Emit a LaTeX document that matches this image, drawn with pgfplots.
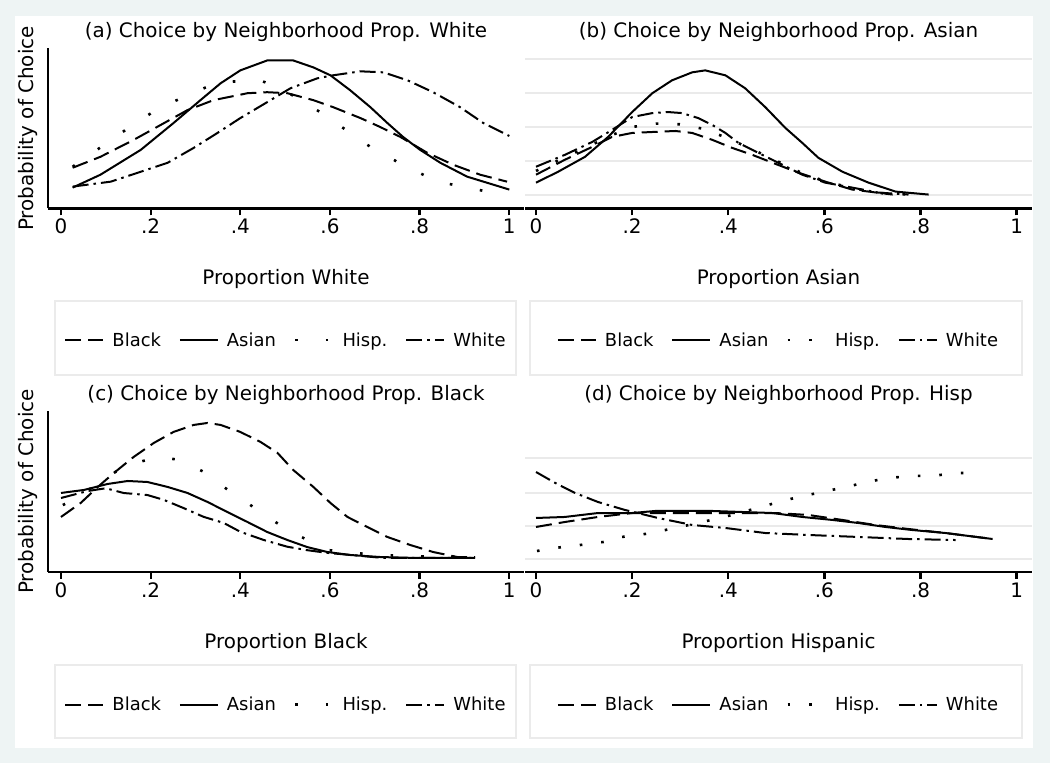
\documentclass[border=0pt]{standalone}
\usepackage{fontspec}
\setmainfont{DejaVu Sans}
\usepackage{pgfplots}
\pgfplotsset{compat=1.18}
\definecolor{bgc}{HTML}{EEF4F4}
\definecolor{gridc}{HTML}{EAEAEA}
\definecolor{legc}{HTML}{EBEBEB}
\pgfplotsset{
  panel/.style={scale only axis, clip=true,
    axis x line*=bottom, axis y line*=left,
    x axis line style={line width=2.3bp,-},
    xtick={0,0.2,0.4,0.6,0.8,1}, xticklabels={0,.2,.4,.6,.8,1},
    tick align=outside, major tick length=7bp,
    xtick style={line width=2.3bp,black},
    ticklabel style={font=\fontsize{20}{24}\selectfont},
    /pgf/number format/assume math mode=true,
    every axis title/.style={at={(axis description cs:0.5,1.1)},anchor=center,font=\fontsize{20}{24}\selectfont},
    every axis x label/.style={at={(axis description cs:0.5,-0.44)},anchor=center,font=\fontsize{20}{24}\selectfont},
    legend style={draw=none,fill=none,legend columns=4,font=\fontsize{18}{22}\selectfont,
      at={(axis description cs:0.5,-0.823)},anchor=center,
      /tikz/every odd column/.append style={column sep=6bp},
      /tikz/every even column/.append style={column sep=16bp}},
    legend image code/.code={\draw[#1] (0bp,0bp) -- (38bp,0bp);},
  },
  leftpanel/.style={panel, width=476bp, xmin=-0.029, xmax=1.0328,
    y axis line style={line width=2.3bp,-}, ytick=\empty,
    every axis y label/.style={at={(axis description cs:-0.042,0.5)},rotate=90,anchor=center,font=\fontsize{20}{24}\selectfont},
    ylabel={Probability of Choice}},
  rightpanel/.style={panel, width=507bp, xmin=-0.0229, xmax=1.032,
    y axis line style={draw=none}, ytick style={draw=none}, yticklabels={},
    ymajorgrids, grid style={line width=2bp,gridc}},
  toprow/.style={height=160bp, ymin=-0.0206, ymax=0.2162},
  botrow/.style={height=161bp, ymin=-0.0191, ymax=0.2176},
  blk/.style={black,line width=2bp,dash pattern=on 16bp off 7bp},
  asn/.style={black,line width=2bp},
  hspA/.style={black,line width=2.6bp,dash pattern=on 2.6bp off 28bp},
  hspB/.style={black,line width=2.6bp,dash pattern=on 2.6bp off 19bp},
  wht/.style={black,line width=2bp,dash pattern=on 16bp off 5bp on 2.5bp off 5bp},
}
\begin{document}
\begin{tikzpicture}[x=1bp,y=1bp]
\useasboundingbox (0,0) rectangle (1050,763);
\fill[bgc] (0,0) rectangle (1050,763);
\fill[white] (15,15) rectangle (1033,747);
\draw[legc,line width=2bp] (55,388) rectangle (516,462);
\draw[legc,line width=2bp] (530,388) rectangle (1022,462);
\draw[legc,line width=2bp] (55,25) rectangle (516,98);
\draw[legc,line width=2bp] (530,25) rectangle (1022,98);

% (a)
\begin{axis}[leftpanel, toprow, at={(48bp,554.5bp)}, anchor=south west,
  title={(a) Choice by Neighborhood Prop. White}, xlabel={Proportion White}]
\addplot[blk] coordinates {(0.026,.0397)(0.088,.0559)(0.162,.0809)(0.222,.1029)(0.282,.125)(0.340,.1397)(0.416,.15)(0.460,.1515)(0.505,.15)(0.563,.1397)(0.607,.1294)(0.668,.1132)(0.712,.1)(0.757,.0853)(0.817,.0618)(0.875,.0441)(0.935,.0294)(0.995,.0191)};
\addlegendentry{Black}
\addplot[asn] coordinates {(0.026,.0103)(0.088,.0294)(0.178,.0662)(0.251,.1059)(0.311,.1397)(0.356,.1647)(0.400,.1838)(0.460,.1985)(0.518,.1985)(0.563,.1882)(0.601,.1765)(0.645,.1544)(0.690,.1294)(0.728,.1059)(0.763,.0853)(0.801,.0662)(0.846,.0471)(0.906,.0265)(1.0,.0074)};
\addlegendentry{Asian}
\addplot[hspA] coordinates {(0.026,.0412)(0.144,.0956)(0.218,.1279)(0.349,.1662)(0.445,.1691)(0.505,.1515)(0.578,.1221)(0.623,.1015)(0.690,.0706)(0.750,.0485)(0.808,.0294)(0.839,.0191)(0.897,.0118)(0.950,.0044)};
\addlegendentry{Hisp.}
\addplot[wht] coordinates {(0.026,.0118)(0.111,.0191)(0.178,.0338)(0.238,.0471)(0.296,.0691)(0.349,.0912)(0.400,.1132)(0.460,.1368)(0.512,.1574)(0.572,.1721)(0.607,.1765)(0.668,.1824)(0.719,.1809)(0.773,.1691)(0.830,.1515)(0.890,.1294)(0.942,.1059)(1.0,.0868)};
\addlegendentry{White}
\end{axis}

% (b)
\begin{axis}[rightpanel, toprow, at={(525bp,554.5bp)}, anchor=south west,
  ytick={0,0.05,0.1,0.15,0.2},
  title={(b) Choice by Neighborhood Prop. Asian}, xlabel={Proportion Asian}]
\addplot[blk] coordinates {(0,.0294)(0.060,.0515)(0.117,.0706)(0.158,.0853)(0.2,.0912)(0.242,.0926)(0.290,.0941)(0.325,.0912)(0.367,.0809)(0.408,.0691)(0.45,.0588)(0.492,.0471)(0.546,.0324)(0.602,.0191)(0.658,.0074)(0.742,0)};
\addlegendentry{Black}
\addplot[asn] coordinates {(0,.0176)(0.046,.0338)(0.102,.0559)(0.150,.0853)(0.200,.1221)(0.242,.15)(0.283,.1691)(0.325,.1809)(0.352,.1838)(0.394,.1765)(0.435,.1574)(0.477,.1294)(0.519,.0985)(0.554,.0765)(0.5875,.0544)(0.6375,.0338)(0.692,.0176)(0.748,.0044)(0.817,0)};
\addlegendentry{Asian}
\addplot[hspB] coordinates {(0,.035)(0.06,.055)(0.117,.074)(0.158,.088)(0.2,.1)(0.25,.105)(0.3,.104)(0.35,.097)(0.4,.083)(0.45,.067)(0.5,.05)(0.55,.033)(0.6,.02)(0.66,.009)(0.72,.002)(0.78,0)};
\addlegendentry{Hisp.}
\addplot[wht] coordinates {(0,.0412)(0.060,.0588)(0.117,.0779)(0.158,.0956)(0.2,.1147)(0.242,.1206)(0.275,.1221)(0.304,.1206)(0.3375,.1132)(0.367,.1029)(0.394,.0912)(0.421,.0765)(0.4625,.0618)(0.504,.0471)(0.554,.0294)(0.602,.0176)(0.658,.0103)(0.7125,.0029)(0.775,0)};
\addlegendentry{White}
\end{axis}

% (c)
\begin{axis}[leftpanel, botrow, at={(48bp,191bp)}, anchor=south west,
  title={(c) Choice by Neighborhood Prop. Black}, xlabel={Proportion Black}]
\addplot[blk] coordinates {(0,.0618)(0.044,.0824)(0.082,.1059)(0.118,.1265)(0.162,.15)(0.207,.1706)(0.251,.1868)(0.296,.1971)(0.327,.2)(0.356,.1971)(0.400,.1868)(0.445,.1721)(0.483,.1559)(0.518,.1309)(0.563,.1059)(0.601,.0824)(0.639,.0618)(0.683,.0471)(0.728,.0324)(0.779,.0206)(0.830,.0103)(0.884,.0029)(0.924,.0029)};
\addlegendentry{Black}
\addplot[asn] coordinates {(0,.0971)(0.051,.1015)(0.104,.1103)(0.149,.1147)(0.193,.1132)(0.238,.1059)(0.282,.0971)(0.327,.0838)(0.371,.0691)(0.416,.0544)(0.460,.0397)(0.505,.0279)(0.549,.0176)(0.594,.0103)(0.645,.0059)(0.712,.0029)(0.794,.0015)(0.924,.0015)};
\addlegendentry{Asian}
\addplot[hspA] coordinates {(0.004,.0794)(0.044,.0912)(0.088,.1162)(0.15,.138)(0.215,.15)(0.267,.1456)(0.340,.1206)(0.363,.1059)(0.416,.0824)(0.460,.0618)(0.518,.0382)(0.541,.0309)(0.594,.0132)(0.7,.006)(0.8,.004)(0.924,.0029)};
\addlegendentry{Hisp.}
\addplot[wht] coordinates {(0,.0897)(0.06,.1)(0.1,.104)(0.14,.097)(0.193,.094)(0.229,.087)(0.273,.075)(0.318,.062)(0.363,.053)(0.4,.040)(0.452,.028)(0.505,.018)(0.549,.013)(0.594,.009)(0.645,.006)(0.719,.0015)(0.924,.0015)};
\addlegendentry{White}
\end{axis}

% (d)
\begin{axis}[rightpanel, botrow, at={(525bp,191bp)}, anchor=south west,
  ytick={0,0.0485,0.097,0.1485},
  title={(d) Choice by Neighborhood Prop. Hisp}, xlabel={Proportion Hispanic}]
\addplot[blk] coordinates {(0,.0471)(0.060,.0544)(0.129,.0618)(0.2,.0676)(0.254,.0676)(0.367,.0676)(0.429,.0676)(0.498,.0676)(0.567,.0647)(0.6375,.0574)(0.706,.05)(0.775,.0441)(0.852,.0382)(0.95,.0294)};
\addlegendentry{Black}
\addplot[asn] coordinates {(0,.0603)(0.060,.0618)(0.129,.0676)(0.2,.0676)(0.248,.0706)(0.367,.0706)(0.492,.0676)(0.554,.0618)(0.617,.0574)(0.671,.0529)(0.727,.0471)(0.783,.0426)(0.852,.0382)(0.95,.0294)};
\addlegendentry{Asian}
\addplot[hspB] coordinates {(0.002,.0118)(0.054,.0176)(0.092,.0206)(0.140,.025)(0.179,.0324)(0.227,.0368)(0.269,.0426)(0.3375,.0529)(0.408,.0647)(0.498,.0824)(0.546,.0912)(0.596,.0985)(0.644,.1059)(0.7,.1147)(0.733,.1191)(0.783,.1221)(0.825,.1221)(0.873,.1265)(0.910,.1265)};
\addlegendentry{Hisp.}
\addplot[wht] coordinates {(0,.1279)(0.040,.1118)(0.081,.0971)(0.129,.0838)(0.185,.0721)(0.254,.0603)(0.325,.05)(0.394,.0456)(0.477,.0382)(0.567,.0353)(0.671,.0324)(0.775,.0294)(0.873,.0279)};
\addlegendentry{White}
\end{axis}
\end{tikzpicture}
\end{document}
